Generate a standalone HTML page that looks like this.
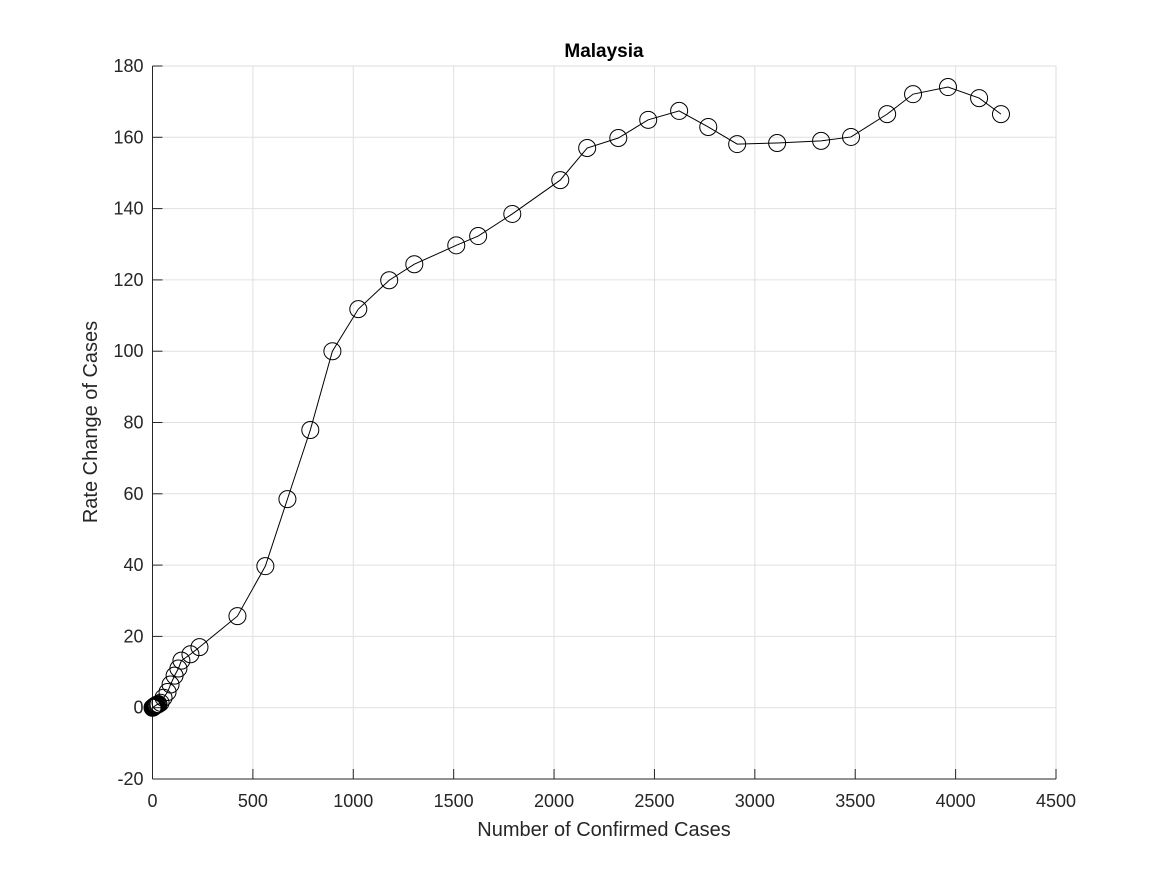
<!DOCTYPE html>
<html><head><meta charset="utf-8"><style>
body{margin:0;background:#fff;font-family:"Liberation Sans",sans-serif}
svg text{font-family:"Liberation Sans",sans-serif;fill:#262626}
</style></head><body>
<svg id="chart" width="1167" height="875" xmlns="http://www.w3.org/2000/svg">
<rect width="1167" height="875" fill="#fff"/>
<g id="grid"></g>
<rect x="152.5" y="66" width="903.5" height="713" fill="none" stroke="#dcdcdc" stroke-width="1"/>
<line x1="152.5" x2="1056" y1="779" y2="779" stroke="#262626"/>
<line x1="152.5" x2="152.5" y1="66" y2="779" stroke="#262626"/>
<g id="ticks"></g>
<g id="series"></g>
<text x="604" y="57" font-size="19" font-weight="bold" text-anchor="middle" style="fill:#000">Malaysia</text>
<text x="604" y="836" font-size="20" text-anchor="middle">Number of Confirmed Cases</text>
<text transform="translate(97,422) rotate(-90)" font-size="20" text-anchor="middle">Rate Change of Cases</text>
</svg>
<script>
const xTicks=[0,500,1000,1500,2000,2500,3000,3500,4000,4500];
const yTicks=[-20,0,20,40,60,80,100,120,140,160,180];
const casesX=[0,3,5,8,10,12,15,18,20,25,30,40,55,75,90,110,129,144,189,234,423,562,672,786,896,1025,1179,1304,1513,1622,1792,2031,2165,2320,2469,2623,2768,2912,3111,3330,3479,3659,3788,3962,4117,4226];
const rateY=[0,0.1,0.2,0.3,0.4,0.5,0.6,0.7,0.8,0.9,1.0,1.4,2.8,4.4,6.5,9,11,13.2,15,17,25.7,39.7,58.5,77.9,100,111.8,119.9,124.4,129.7,132.3,138.5,148,157,159.8,164.9,167.4,162.9,158.1,158.4,159,160.1,166.5,172.1,174.1,171,166.5];
const X0=152.5,X1=1056,Y0=779,Y1=66;
const sx=v=>X0+(v-0)/4500*(X1-X0);
const sy=v=>Y0-(v+20)/200*(Y0-Y1);
const NS="http://www.w3.org/2000/svg";
const mk=(t,a,p)=>{const e=document.createElementNS(NS,t);for(const k in a)e.setAttribute(k,a[k]);p.appendChild(e);return e;};
const grid=document.getElementById('grid'),ticks=document.getElementById('ticks'),ser=document.getElementById('series');
xTicks.forEach(v=>{
 const x=sx(v);
 const g=mk('line',{x1:x,x2:x,y1:Y1,y2:Y0,stroke:'#e0e0e0','stroke-width':1},grid);
 
 
 const t=mk('line',{x1:x,x2:x,y1:Y0,y2:Y0-10,stroke:'#262626'},ticks);
 
 
 const l=mk('text',{x:x,y:Y0+28,'font-size':18,'text-anchor':'middle'},ticks);l.textContent=v;
 
 
});
yTicks.forEach(v=>{
 const y=sy(v);
 const g=mk('line',{x1:X0,x2:X1,y1:y,y2:y,stroke:'#e0e0e0','stroke-width':1},grid);
 
 
 const t=mk('line',{x1:X0,x2:X0+10,y1:y,y2:y,stroke:'#262626'},ticks);
 
 
 const l=mk('text',{x:X0-9,y:y+6,'font-size':18,'text-anchor':'end'},ticks);l.textContent=v;
 
 
});
const pts=casesX.map((v,i)=>sx(v)+','+sy(rateY[i])).join(' ');
const pl=mk('polyline',{points:pts,fill:'none',stroke:'#000','stroke-width':1},ser);


casesX.forEach((v,i)=>{
 const c=mk('circle',{cx:sx(v),cy:sy(rateY[i]),r:8.5,fill:'none',stroke:'#000','stroke-width':1},ser);
 
 
});
</script>
</body></html>
